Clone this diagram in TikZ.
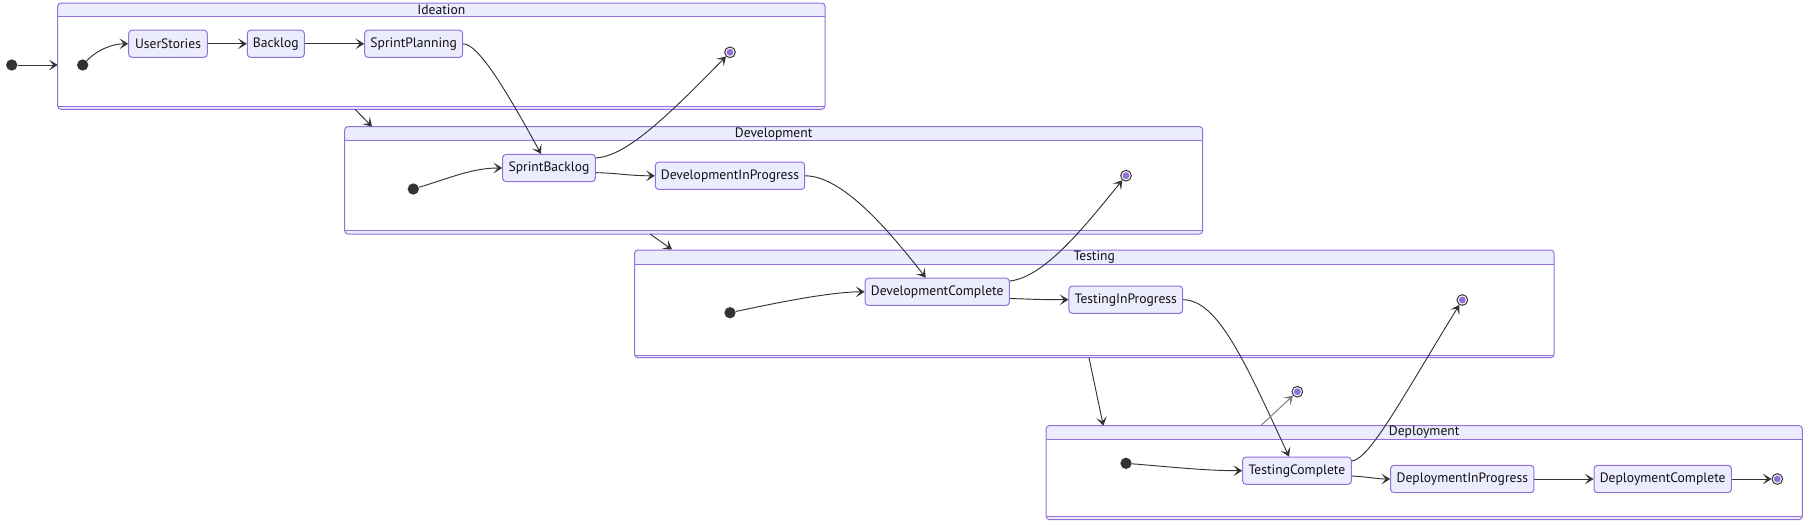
\documentclass[tikz,border=0pt]{standalone}
\usepackage{fontspec}
\setmainfont{PT Sans}
\usetikzlibrary{arrows.meta}
\definecolor{lav}{HTML}{ECECFF}
\definecolor{purp}{HTML}{9370DB}
\definecolor{ln}{HTML}{333333}
\definecolor{tx}{HTML}{111111}
\newcommand\mycomposite[8]{%
 \begin{scope}
 \clip[rounded corners=2.5pt] (#2,#3) rectangle (#4,#5);
 \fill[white] (#2,#3) rectangle (#4,#5);
 \fill[lav] (#2,#3) rectangle (#4,#6);
 \fill[lav] (#2,#7) rectangle (#4,#5);
 \end{scope}
 \draw[cbord, rounded corners=2.5pt] (#2,#3) rectangle (#4,#5);
 \draw[cbord] (#2,#6) -- (#4,#6);
 \draw[cbord] (#2,#7) -- (#4,#7);
 \node[ctitle] (#1) at ({(#2+#4)/2},{(#3+#6)/2}) {#8};
}
\begin{document}
\begin{tikzpicture}[x=0.75pt,y=-0.75pt,
 cbord/.style={draw=purp, line width=0.75pt},
 ctitle/.style={inner sep=0pt, text=tx, font=\fontsize{10.2}{12}\selectfont},
 st/.style={draw=purp, fill=lav, rounded corners=2.5pt, line width=0.75pt, minimum height=20.4pt, inner sep=0pt, text=tx, font=\fontsize{10.2}{12}\selectfont},
 startdot/.style={circle, fill=ln, minimum size=8.5pt, inner sep=0pt},
 endst/.style={circle, draw=ln, fill=white, line width=0.75pt, minimum size=8pt, inner sep=0pt,
   path picture={\fill[purp] (path picture bounding box.center) circle (2.6pt);}},
 edge/.style={draw=ln, line width=0.7pt, -{Stealth[length=6.5pt, width=8pt, inset=3.2pt]}}]
\useasboundingbox (0,0) rectangle (1809,525);
\mycomposite{ideation}{57.7}{3}{825}{109.3}{16.7}{106.7}{Ideation}
\mycomposite{development}{344.7}{126.5}{1202.7}{234}{140.7}{230.7}{Development}
\mycomposite{testing}{634.5}{250}{1554}{357.7}{264.3}{355}{Testing}
\mycomposite{deployment}{1046}{425.7}{1802.3}{519.5}{439.3}{516.8}{Deployment}
% states
\node[startdot] (s0) at (11.7,65) {};
\node[startdot] (s1) at (82.7,65) {};
\node[startdot] (s2) at (413.3,189) {};
\node[startdot] (s3) at (730,312.7) {};
\node[startdot] (s4) at (1126,463.3) {};
\node[endst] (f1) at (730,52.3) {};
\node[endst] (f2) at (1126,175.7) {};
\node[endst] (f3) at (1462.3,300) {};
\node[endst] (f0) at (1297.3,391.7) {};
\node[endst] (f4) at (1777.3,479) {};
\node[st, minimum width=58.95pt] (us) at (168,43.8) {UserStories};
\node[st, minimum width=42.75pt] (bl) at (275.8,43.8) {Backlog};
\node[st, minimum width=73.5pt] (sp) at (413.7,43.8) {SprintPlanning};
\node[st, minimum width=69.45pt] (sb) at (549,168) {SprintBacklog};
\node[st, minimum width=112.05pt] (dip) at (730,175.8) {DevelopmentInProgress};
\node[st, minimum width=108.2pt] (dc) at (937.2,291.8) {DevelopmentComplete};
\node[st, minimum width=85.3pt] (tip) at (1125.8,299.7) {TestingInProgress};
\node[st, minimum width=81.45pt] (tc) at (1297,470.7) {TestingComplete};
\node[st, minimum width=107.5pt] (deip) at (1462.3,479) {DeploymentInProgress};
\node[st, minimum width=103pt] (dcom) at (1662.7,479) {DeploymentComplete};
% coordinates on composite borders
\coordinate (ideaW) at (57.7,65);
\coordinate (i2dA) at (355,109.3);
\coordinate (i2dB) at (372,126.5);
\coordinate (d2tA) at (650,234);
\coordinate (d2tB) at (672,249.5);
\coordinate (t2pA) at (1089,357.7);
\coordinate (t2pB) at (1103.3,425.7);
\coordinate (p2fA) at (1260.7,425.7);
% transitions
\draw[edge] (s0) -- (ideaW);
\draw[edge] (s1) .. controls (97,50) and (112,43.8) .. (us.west);
\draw[edge] (us.east) -- (bl.west);
\draw[edge] (bl.east) -- (sp.west);
\draw[edge] (sp.east) .. controls (478,44) and (505,88) .. ([xshift=-6pt]sb.north);
\draw[edge] ([yshift=7.5pt]sb.east) .. controls (625,156) and (662,122) .. (f1);
\draw[edge] (s2) .. controls (450,178) and (472,168) .. (sb.west);
\draw[edge] ([yshift=-3.5pt]sb.east) .. controls (618,173) and (628,175.8) .. (dip.west);
\draw[edge] (dip.east) .. controls (842,176) and (887,228) .. ([xshift=-8.6pt]dc.north);
\draw[edge] ([yshift=8.1pt]dc.east) .. controls (1045,277) and (1085,226) .. (f2);
\draw[edge] (s3) .. controls (780,302) and (832,291.8) .. (dc.west);
\draw[edge] ([yshift=-5pt]dc.east) .. controls (1027,299) and (1037,299.7) .. (tip.west);
\draw[edge] (tip.east) .. controls (1218,300) and (1245,362) .. ([xshift=-6pt]tc.north);
\draw[edge] ([yshift=7.3pt]tc.east) .. controls (1370,459) and (1402,398) .. (f3);
\draw[edge] (s4) .. controls (1172,467) and (1205,470.7) .. (tc.west);
\draw[edge] ([yshift=-4pt]tc.east) .. controls (1370,477) and (1377,479) .. (deip.west);
\draw[edge] (deip.east) -- (dcom.west);
\draw[edge] (dcom.east) -- (f4);
\draw[edge] (i2dA) -- (i2dB);
\draw[edge] (d2tA) -- (d2tB);
\draw[edge] (t2pA) -- (t2pB);
\draw[edge, draw=ln!65] (p2fA) -- (f0);
\end{tikzpicture}
\end{document}
